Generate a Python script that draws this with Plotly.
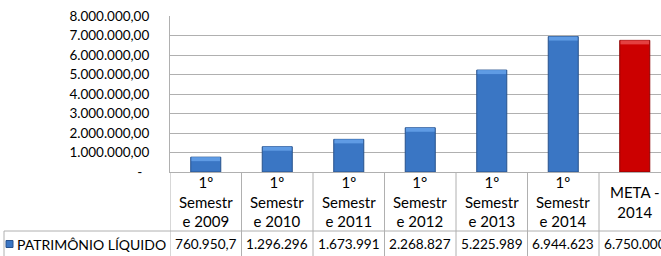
import plotly.graph_objects as go

categories = ["1º<br>Semestr<br>e 2009", "1º<br>Semestr<br>e 2010", "1º<br>Semestr<br>e 2011",
              "1°<br>Semestr<br>e 2012", "1º<br>Semestr<br>e 2013", "1º<br>Semestr<br>e 2014",
              "META -<br>2014"]
values = [760950.7, 1296296, 1673991, 2268827, 5225989, 6944623, 6750000]
series_name = "PATRIMÔNIO LÍQUIDO"
y_tickvals = [0, 1e6, 2e6, 3e6, 4e6, 5e6, 6e6, 7e6, 8e6]
y_ticktext = ["-\u00a0\u00a0", "1.000.000,00", "2.000.000,00", "3.000.000,00", "4.000.000,00",
              "5.000.000,00", "6.000.000,00", "7.000.000,00", "8.000.000,00"]


def fmt_br(v):
    s = f"{v:,.1f}" if v % 1 else f"{v:,.0f}"
    return s.replace(",", "#").replace(".", ",").replace("#", ".")


FONT = "Lato"
FS_Y = 13.5
FS_C = 15
FS_V = 13.6
FS_L = 14
GRID = "#b0b0b0"
xs = list(range(len(categories)))
is_meta = [c.startswith("META") for c in categories]
colors = ["#cc0000" if m else "#3a76c4" for m in is_meta]
caps = ["#e44040" if m else "#5f9be4" for m in is_meta]
lines = ["#8e0000" if m else "#28528c" for m in is_meta]

W, H = 661, 256
ml, mt, mb = 170, 16, 84
pw = W - ml
ph = H - mt - mb
cat_px = 71.5
y_max = 8e6
cap_h = 4 * y_max / ph  # bevel highlight, 4 px tall

fig = go.Figure()
fig.add_trace(go.Bar(
    x=xs, y=values, width=0.42,
    marker=dict(color=colors, line=dict(color=lines, width=1)),
    name=series_name, showlegend=False,
))
fig.add_trace(go.Bar(
    x=xs, y=[cap_h] * len(values), base=[v - cap_h for v in values], width=0.40,
    marker=dict(color=caps, line=dict(width=0)),
    showlegend=False, hoverinfo="skip",
))


def py(px_y):
    return (mt + ph - px_y) / ph


def px_(px_x):
    return (px_x - ml) / pw


shapes = []
for i in range(len(categories)):
    shapes.append(dict(type="line", xref="x", yref="paper", x0=i - 0.5, x1=i - 0.5,
                       y0=0, y1=py(256), line=dict(color=GRID, width=1)))
shapes.append(dict(type="line", xref="paper", yref="paper", x0=px_(4), x1=1,
                   y0=py(231), y1=py(231), line=dict(color=GRID, width=1)))
shapes.append(dict(type="line", xref="paper", yref="paper", x0=px_(4), x1=px_(4),
                   y0=py(231), y1=py(256), line=dict(color=GRID, width=1)))
# legend key square
shapes.append(dict(type="rect", xref="paper", yref="paper", x0=px_(6), x1=px_(13),
                   y0=py(247.5), y1=py(240.5), fillcolor="#3a76c4",
                   line=dict(color="#28528c", width=1)))

annotations = []
for i, c in enumerate(categories):
    annotations.append(dict(x=i, xref="x", y=py(201.5), yref="paper", text=c,
                            showarrow=False, xanchor="center", yanchor="middle",
                            font=dict(family=FONT, size=FS_C, color="#000000")))
for i, v in enumerate(values):
    annotations.append(dict(x=i, xref="x", y=py(244), yref="paper", text=fmt_br(v),
                            showarrow=False, xanchor="center", yanchor="middle",
                            font=dict(family=FONT, size=FS_V, color="#000000")))
annotations.append(dict(x=px_(15), xref="paper", y=py(244), yref="paper",
                        text=series_name,
                        showarrow=False, xanchor="left", yanchor="middle",
                        font=dict(family=FONT, size=FS_L, color="#000000")))

fig.update_layout(
    width=W, height=H,
    margin=dict(l=ml, r=0, t=mt, b=mb, pad=0, autoexpand=False),
    paper_bgcolor="white", plot_bgcolor="white",
    barmode="overlay",
    font=dict(family=FONT, size=FS_C, color="#000000"),
    xaxis=dict(type="linear", range=[-0.5, -0.5 + pw / cat_px], showticklabels=False,
               showgrid=False, zeroline=False, showline=True, linecolor=GRID, linewidth=1,
               fixedrange=True, automargin=False),
    yaxis=dict(range=[0, y_max], tickvals=y_tickvals, ticktext=y_ticktext,
               showgrid=True, gridcolor=GRID, gridwidth=1, zeroline=False,
               showline=True, linecolor=GRID, linewidth=1,
               ticks="outside", ticklen=17, tickcolor="rgba(0,0,0,0)",
               tickfont=dict(family=FONT, size=FS_Y), fixedrange=True, automargin=False),
    shapes=shapes, annotations=annotations,
)

fig.write_html("out.html", config={"displayModeBar": False},
               post_script="document.body.style.margin='0px';")
